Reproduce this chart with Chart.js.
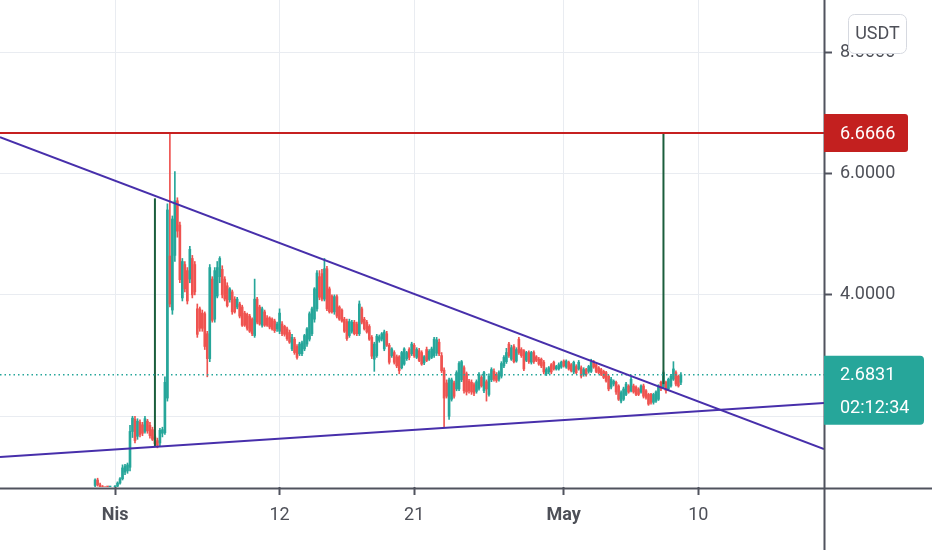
<!DOCTYPE html>
<html>
<head>
<meta charset="utf-8">
<script src="https://cdn.jsdelivr.net/npm/chart.js@4.4.0/dist/chart.umd.min.js"></script>
<style>
  html, body { margin: 0; padding: 0; background: #fff; }
</style>
</head>
<body>
<canvas id="chart" width="932" height="550"></canvas>
<script>
// 4h candles, index 0 = Mar 30 16:00, index 8 = Apr 1 00:00
const opens = [
  .86,.95,.87,.84,.82,.80,.79,.80,.82,.85,
  .90,.97,1.08,1.10,1.16,1.75,1.95,1.67,1.90,1.86,
  1.75,1.92,1.85,1.78,1.66,1.60,1.56,1.72,1.73,2.30,
  4.64,3.75,4.65,5.55,5.15,3.95,4.50,4.40,4.26,4.60,
  4.50,3.77,3.77,3.70,3.69,3.36,2.95,4.26,3.60,3.98,
  4.30,4.42,4.26,4.15,3.92,4.05,3.93,3.80,3.85,3.80,
  3.70,3.68,3.65,3.60,3.33,3.93,3.80,3.50,3.72,3.62,
  3.62,3.60,3.57,3.44,3.40,3.52,3.48,3.44,3.38,3.11,
  3.27,3.15,3.03,3.03,3.11,3.19,3.27,3.36,3.60,3.77,
  4.30,4.35,3.93,4.43,4.10,3.98,3.72,3.97,3.80,3.75,
  3.60,3.56,3.33,3.40,3.55,3.52,3.36,3.77,3.60,3.55,
  3.48,3.30,2.94,3.00,3.25,3.27,3.11,3.36,3.17,3.00,
  3.05,2.98,2.98,2.80,2.86,2.95,3.10,3.03,3.17,2.97,
  3.08,3.05,2.88,3.10,2.94,2.97,3.00,3.04,3.22,3.00,
  2.76,2.55,2.00,2.28,2.55,2.45,2.45,2.60,2.80,2.70,
  2.58,2.56,2.52,2.41,2.46,2.64,2.42,2.57,2.36,2.60,
  2.74,2.69,2.61,2.66,2.83,2.90,3.19,2.94,3.15,2.91,
  3.27,3.10,3.08,2.92,3.05,2.89,3.05,2.98,2.94,2.94,
  2.89,2.70,2.73,2.85,2.89,2.78,2.78,2.81,2.91,2.81,
  2.89,2.85,2.73,2.82,2.78,2.80,2.69,2.77,2.74,2.74,
  2.89,2.85,2.80,2.77,2.74,2.72,2.66,2.48,2.53,2.56,
  2.50,2.25,2.28,2.36,2.50,2.42,2.50,2.48,2.45,2.40,
  2.50,2.42,2.36,2.36,2.23,2.25,2.28,2.56,2.48,2.56,
  2.45,2.50,2.61,2.72,2.66,2.56
];
const highs = [
  .97,.98,.90,.86,.84,.83,.82,.83,.86,.92,
  .99,1.20,1.21,1.23,1.85,2.00,2.00,1.96,1.94,1.90,
  2.00,1.95,1.90,1.82,1.70,1.64,1.80,1.82,2.65,5.50,
  6.6666,5.30,6.03,5.60,5.20,4.60,4.55,4.45,4.80,4.65,
  4.55,3.85,3.80,3.75,3.72,3.40,4.50,4.30,4.45,4.55,
  4.63,4.48,4.30,4.20,4.12,4.08,3.97,3.96,3.88,3.83,
  3.73,3.70,3.68,3.62,4.26,3.96,3.83,3.80,3.75,3.66,
  3.64,3.62,3.60,3.55,3.77,3.56,3.50,3.47,3.42,3.35,
  3.30,3.18,3.22,3.24,3.35,3.46,3.72,3.80,4.12,4.40,
  4.40,4.42,4.60,4.47,4.13,4.00,4.00,4.00,3.82,3.77,
  3.63,3.60,3.60,3.58,3.58,3.55,3.90,3.80,3.63,3.58,
  3.51,3.33,3.22,3.35,3.34,3.38,3.42,3.40,3.20,3.13,
  3.08,3.01,3.00,3.07,3.13,3.07,3.13,3.22,3.20,3.13,
  3.12,3.08,3.00,3.14,3.10,3.14,3.30,3.30,3.27,3.05,
  2.80,2.60,2.63,2.63,2.58,2.75,2.90,2.92,2.83,2.73,
  2.61,2.60,2.55,2.60,2.72,2.67,2.74,2.60,2.70,2.80,
  2.78,2.72,2.75,2.90,3.00,3.12,3.22,3.17,3.18,3.13,
  3.30,3.13,3.10,3.07,3.08,3.07,3.08,3.00,2.97,2.96,
  2.92,2.80,2.82,2.87,2.91,2.84,2.88,2.91,2.93,2.93,
  2.91,2.87,2.91,2.85,2.92,2.83,2.80,2.79,2.84,2.94,
  2.92,2.87,2.82,2.79,2.76,2.74,2.68,2.64,2.60,2.58,
  2.52,2.42,2.48,2.56,2.52,2.64,2.53,2.50,2.47,2.52,
  2.53,2.44,2.38,2.38,2.38,2.42,2.52,2.58,2.75,2.58,
  2.63,2.69,2.90,2.75,2.68,2.72
];
const lows = [
  .83,.85,.82,.80,.78,.77,.76,.78,.80,.83,
  .88,.95,1.04,1.06,1.10,1.65,1.56,1.62,1.66,1.68,
  1.72,1.72,1.64,1.60,1.50,1.48,1.50,1.66,1.70,2.25,
  3.80,3.68,4.55,4.95,4.20,3.90,4.05,3.85,4.20,3.95,
  4.00,3.30,3.40,3.40,3.10,2.65,2.90,3.55,3.55,3.95,
  4.20,3.95,3.90,3.80,3.88,3.68,3.70,3.77,3.62,3.48,
  3.48,3.42,3.38,3.33,3.30,3.52,3.50,3.47,3.48,3.48,
  3.44,3.42,3.38,3.40,3.36,3.33,3.32,3.25,3.20,3.08,
  3.02,2.94,3.00,3.00,3.08,3.15,3.24,3.33,3.55,3.73,
  3.92,3.90,3.90,3.74,3.70,3.70,3.68,3.62,3.58,3.55,
  3.38,3.25,3.30,3.37,3.34,3.33,3.33,3.52,3.42,3.37,
  3.25,2.95,2.74,2.97,3.22,3.24,3.08,3.15,2.86,2.97,
  2.86,2.80,2.70,2.78,2.84,2.92,2.93,3.00,2.97,2.95,
  2.90,2.84,2.85,2.90,2.92,2.95,2.97,3.00,3.00,2.72,
  1.82,2.30,1.95,2.25,2.30,2.42,2.42,2.57,2.38,2.35,
  2.38,2.36,2.34,2.38,2.43,2.48,2.39,2.25,2.33,2.57,
  2.58,2.56,2.58,2.63,2.80,2.87,2.97,2.92,2.88,2.89,
  3.02,2.97,2.75,2.90,2.87,2.86,2.87,2.90,2.84,2.80,
  2.70,2.67,2.70,2.70,2.76,2.76,2.76,2.79,2.81,2.79,
  2.76,2.73,2.70,2.70,2.76,2.63,2.66,2.66,2.71,2.72,
  2.79,2.72,2.70,2.67,2.62,2.56,2.42,2.45,2.50,2.36,
  2.26,2.22,2.26,2.34,2.38,2.40,2.38,2.34,2.34,2.38,
  2.30,2.28,2.18,2.20,2.20,2.23,2.26,2.42,2.46,2.38,
  2.43,2.48,2.59,2.50,2.48,2.52
];
const closes = [
  .95,.87,.84,.82,.80,.79,.80,.82,.85,.90,
  .97,1.15,1.18,1.20,1.75,1.97,1.60,1.92,1.70,1.72,
  1.96,1.76,1.68,1.62,1.55,1.52,1.77,1.78,2.56,5.40,
  3.85,5.25,5.55,5.05,4.25,4.55,4.10,3.90,4.75,4.00,
  4.05,3.35,3.45,3.45,3.15,2.95,4.45,3.58,4.40,4.45,
  4.60,4.00,3.93,3.82,4.10,3.72,3.72,3.93,3.65,3.50,
  3.50,3.45,3.40,3.36,3.93,3.55,3.52,3.77,3.50,3.50,
  3.47,3.44,3.41,3.52,3.70,3.36,3.35,3.28,3.22,3.30,
  3.05,2.97,3.19,3.21,3.33,3.44,3.69,3.77,4.10,4.36,
  3.96,3.93,4.43,3.77,3.72,3.72,3.97,3.65,3.60,3.57,
  3.40,3.28,3.56,3.55,3.36,3.36,3.85,3.55,3.44,3.39,
  3.27,2.99,3.19,3.32,3.31,3.36,3.39,3.17,2.89,3.11,
  2.89,2.83,2.75,3.05,3.11,3.05,2.97,3.19,3.00,3.10,
  2.92,2.86,2.98,2.92,3.07,3.11,3.27,3.26,3.03,2.75,
  2.30,2.33,2.60,2.60,2.33,2.72,2.87,2.90,2.42,2.40,
  2.42,2.40,2.38,2.57,2.69,2.50,2.72,2.45,2.66,2.77,
  2.61,2.59,2.72,2.87,2.97,3.05,3.00,3.13,2.90,3.10,
  3.05,3.00,2.78,3.05,2.90,3.05,2.90,2.92,2.86,2.83,
  2.73,2.77,2.80,2.73,2.78,2.82,2.85,2.89,2.83,2.91,
  2.78,2.75,2.89,2.72,2.89,2.66,2.77,2.69,2.82,2.89,
  2.81,2.74,2.72,2.69,2.64,2.58,2.45,2.61,2.58,2.40,
  2.28,2.39,2.45,2.53,2.40,2.61,2.40,2.36,2.36,2.50,
  2.33,2.31,2.20,2.23,2.36,2.40,2.50,2.45,2.72,2.42,
  2.61,2.66,2.78,2.53,2.50,2.6831
];

// time axis (candle index) and price axis
const tickIdx = [8, 74, 128, 188, 242];
const tickLabels = ["Nis", "12", "21", "May", "10"];
const monthLabels = ["Nis", "May"];
const priceTicks = [2, 4, 6, 8];
const xMin = -38.15, xMax = 292.4;
const yMin = 0.835, yMax = 8.858;

// drawings
const resistance = 6.6666;
const lastPrice = 2.6831;
const countdown = "02:12:34";
const upperTrend = [[xMin, 6.60], [xMax, 1.46]];
const lowerTrend = [[xMin, 1.33], [xMax, 2.22]];
const rangeA = [[24, 1.50], [24, 5.59]];
const rangeB = [[228, 2.53], [228, resistance]];

const up = "#26a69a", down = "#ef5350";
const colors = closes.map((c, i) => (c >= opens[i] ? up : down));
const wicks = opens.map((o, i) => ({ x: i, y: [lows[i], highs[i]] }));
const bodies = opens.map((o, i) => ({ x: i, y: [o, closes[i]] }));
const pts = (arr) => arr.map(([x, y]) => ({ x, y }));

function lineSet(arr, color, width, dash) {
  return {
    type: "line",
    data: pts(arr),
    borderColor: color,
    borderWidth: width,
    borderDash: dash || [],
    pointRadius: 0,
    fill: false,
    clip: 0,
    order: 1,
  };
}

// drop the label padding Chart.js reserves at the scale ends
function noPad(s) {
  s.paddingTop = 0;
  s.paddingBottom = 0;
  s.paddingLeft = 0;
  s.paddingRight = 0;
}

const overlay = {
  id: "overlay",
  afterDraw(chart) {
    const { ctx, chartArea: a, scales } = chart;
    const y = scales.y;
    const W = chart.width, H = chart.height;
    ctx.save();

    // axis borders, running out to the canvas edges
    ctx.strokeStyle = "#50535e";
    ctx.lineWidth = 2;
    ctx.beginPath();
    ctx.moveTo(0, a.bottom + 1.5);
    ctx.lineTo(W, a.bottom + 1.5);
    ctx.moveTo(a.right + 0.5, 0);
    ctx.lineTo(a.right + 0.5, H);
    ctx.stroke();

    ctx.font = "18px Roboto";
    ctx.textBaseline = "middle";
    ctx.textAlign = "left";

    // resistance tag
    const ry = y.getPixelForValue(resistance);
    ctx.fillStyle = "#c3201f";
    ctx.beginPath();
    ctx.roundRect(a.right, ry - 19, 84, 38, [0, 3, 3, 0]);
    ctx.fill();
    ctx.fillStyle = "#ffffff";
    ctx.fillText(resistance.toFixed(4), a.right + 16, ry + 1);

    // last price tag
    const py = y.getPixelForValue(lastPrice);
    ctx.fillStyle = up;
    ctx.beginPath();
    ctx.roundRect(a.right, py - 19, 100, 69, [0, 4, 4, 0]);
    ctx.fill();
    ctx.fillStyle = "#ffffff";
    ctx.fillText(lastPrice.toFixed(4), a.right + 16, py + 1);
    ctx.fillText(countdown, a.right + 16, py + 34);

    // currency button
    ctx.fillStyle = "#ffffff";
    ctx.strokeStyle = "#d6d9e0";
    ctx.lineWidth = 1;
    ctx.beginPath();
    ctx.roundRect(W - 83.5, 14.5, 58, 39, 6);
    ctx.fill();
    ctx.stroke();
    ctx.fillStyle = "#4e5058";
    ctx.textAlign = "center";
    ctx.fillText("USDT", W - 54.5, 34);

    ctx.restore();
  },
};

new Chart(document.getElementById("chart"), {
  type: "bar",
  data: {
    datasets: [
      lineSet(upperTrend, "#472fab", 2),
      lineSet(lowerTrend, "#472fab", 2),
      lineSet([[xMin, resistance], [xMax, resistance]], "#c62020", 2),
      lineSet([[xMin, lastPrice], [xMax, lastPrice]], up, 1.5, [1.5, 3]),
      lineSet(rangeA, "#1b5e3c", 2),
      lineSet(rangeB, "#1b5e3c", 2),
      {
        data: wicks,
        backgroundColor: colors,
        barThickness: 1,
        grouped: false,
        borderWidth: 0,
        clip: 0,
        order: 3,
      },
      {
        data: bodies,
        backgroundColor: colors,
        barThickness: 2,
        minBarLength: 1,
        grouped: false,
        borderWidth: 0,
        clip: 0,
        order: 2,
      },
    ],
  },
  options: {
    responsive: false,
    animation: false,
    layout: { padding: 0 },
    plugins: { legend: { display: false }, tooltip: { enabled: false } },
    scales: {
      x: {
        type: "linear",
        position: "bottom",
        min: xMin,
        max: xMax,
        offset: false,
        border: { display: false },
        grid: { offset: false, color: "#e9ecf1", tickColor: "#50535e", tickLength: 8, tickWidth: 2 },
        afterBuildTicks: (s) => { s.ticks = tickIdx.map((v) => ({ value: v })); },
        afterFit: (s) => { s.height = 63; noPad(s); },
        ticks: {
          autoSkip: false,
          maxRotation: 0,
          padding: 10,
          color: "#4e5058",
          callback: (v) => tickLabels[tickIdx.indexOf(v)],
          font: (c) => ({
            family: "Roboto",
            size: 18,
            weight: monthLabels.includes(tickLabels[tickIdx.indexOf(c.tick && c.tick.value)]) ? "bold" : "normal",
          }),
        },
      },
      y: {
        type: "linear",
        position: "right",
        min: yMin,
        max: yMax,
        border: { display: false },
        grid: { color: "#e9ecf1", tickColor: "#50535e", tickLength: 8, tickWidth: 2 },
        afterBuildTicks: (s) => { s.ticks = priceTicks.map((v) => ({ value: v })); },
        afterFit: (s) => { s.width = 108; noPad(s); },
        ticks: {
          padding: 8,
          color: "#4e5058",
          font: { family: "Roboto", size: 18 },
          callback: (v) => v.toFixed(4),
        },
      },
    },
  },
  plugins: [overlay],
});
</script>
</body>
</html>
